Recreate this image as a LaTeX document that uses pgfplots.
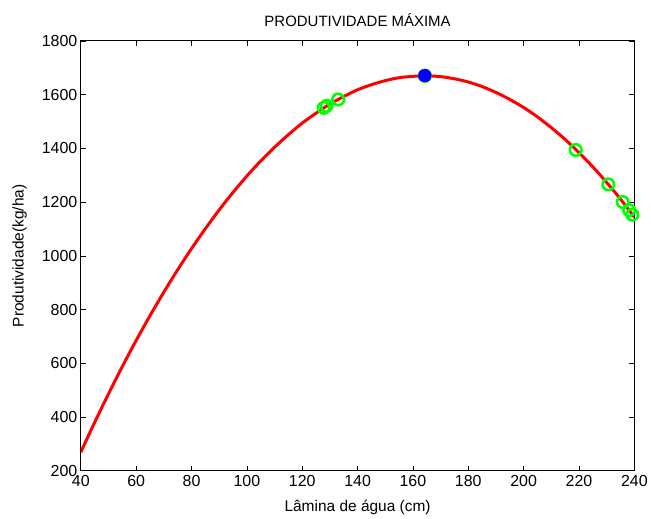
\documentclass[border=0pt]{standalone}
\usepackage{fontspec}
\setmainfont{Liberation Sans}
\usepackage{pgfplots}
\pgfplotsset{compat=1.18}
\usetikzlibrary{calc}
\definecolor{curve}{HTML}{FF0000}
\definecolor{pts}{HTML}{00FF00}
\definecolor{best}{HTML}{0000FF}

\begin{document}
\begin{tikzpicture}
\begin{axis}[scale only axis,width=555pt,height=431pt,
  xmin=40,xmax=240,ymin=200,ymax=1800,
  xtick={40,60,...,240},ytick={200,400,...,1800},
  tick align=inside,major tick length=5pt,tick style={black,line width=0.6pt},
  axis line style={line width=1pt},
  xtick pos=both,ytick pos=both,
  /pgf/number format/assume math mode=true,
  /pgf/number format/1000 sep={},
  tick label style={font=\fontsize{16}{18}\selectfont},
  xticklabel style={yshift=-1pt},
  title={PRODUTIVIDADE MÁXIMA},title style={font=\fontsize{15}{18}\selectfont,yshift=5pt},
  xlabel={Lâmina de água (cm)},ylabel={Produtividade(kg/ha)},
  label style={font=\fontsize{15.5}{18}\selectfont},
  xlabel style={yshift=-7pt},ylabel style={yshift=8pt}]
\addplot[curve,line width=3pt,smooth] coordinates {
(40,269) (45,380) (50,486) (55,588) (60,685) (65,777) (70,865) (75,948)
(80,1027) (85,1101) (90,1171) (95,1236) (100,1297) (105,1353) (110,1404)
(115,1451) (120,1494) (125,1531) (130,1565) (135,1593) (140,1618)
(145,1637) (150,1652) (155,1663) (160,1668) (165,1670) (170,1667)
(175,1659) (180,1647) (185,1630) (190,1608) (195,1582) (200,1552)
(205,1517) (210,1477) (215,1433) (220,1384) (225,1331) (230,1273)
(235,1211) (240,1144)};
\addplot[only marks,mark=o,mark size=5.8pt,mark options={pts,line width=2.6pt}] coordinates {
(127.8,1551) (128.8,1558) (133.0,1582) (164.3,1670)
(218.8,1394) (230.6,1266) (235.8,1200) (238.1,1170) (239.3,1153)};
\addplot[only marks,mark=*,mark size=6.5pt,mark options={draw=best,fill=best}] coordinates {(164.3,1671)};
\end{axis}
\useasboundingbox ($(current axis.south west)+(-81pt,-42pt)$) rectangle ($(current axis.north east)+(15pt,41pt)$);
\end{tikzpicture}
\end{document}
